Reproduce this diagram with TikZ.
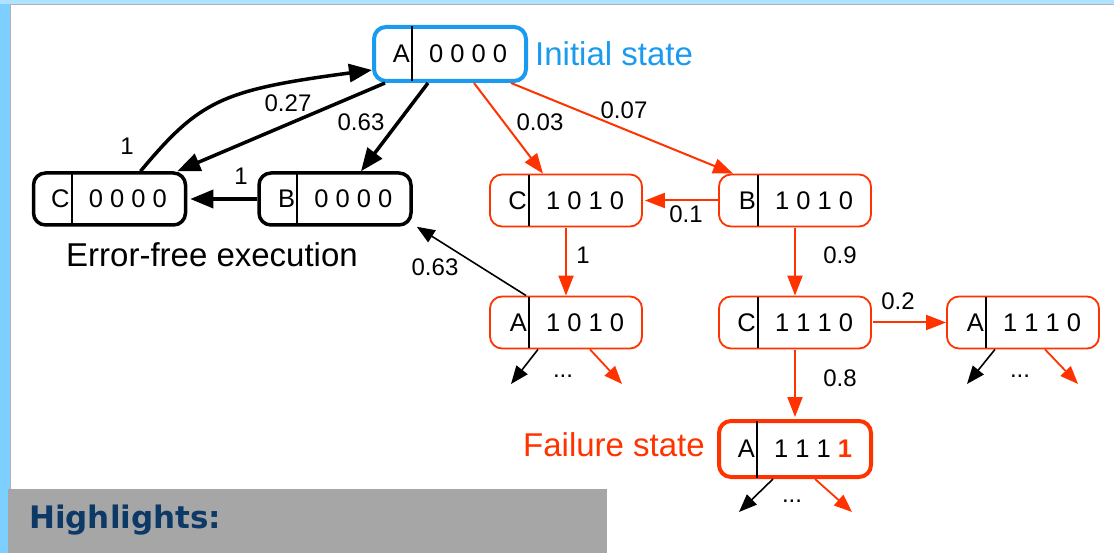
\documentclass[tikz,border=0pt]{standalone}
\usepackage{fontspec}
\setmainfont{Liberation Sans}
\newfontfamily\hlfont{DejaVu Sans}
\usetikzlibrary{arrows.meta}

\definecolor{skyblue}{HTML}{1A9BF0}
\definecolor{failred}{HTML}{FF3300}
\definecolor{bandblue}{HTML}{7DCFFF}
\definecolor{panelgray}{HTML}{A6A6A6}
\definecolor{hlblue}{HTML}{0C3966}

% state cell: divider, unit letter and bit vector
\newcommand\statecells[3]{%
  \draw[line width=1.8pt, shorten <=1.5pt, shorten >=1.5pt]
    ([xshift=40pt]#1.north west) -- ([xshift=40pt]#1.south west);
  \node[boxtext, anchor=east] (#1-l) at ([xshift=38pt]#1.west) {#2};
  \node[boxtext] (#1-v) at ([xshift=96pt]#1.west) {#3};
}

\begin{document}
\begin{tikzpicture}[x=1pt, y=-1pt,
  statebox/.style={draw, rounded corners=12pt, minimum width=152pt,
    minimum height=52pt, inner sep=0pt, fill=white},
  okbox/.style={statebox, line width=3.5pt, draw=black},
  initbox/.style={statebox, line width=4pt, draw=skyblue, minimum height=54pt},
  errbox/.style={statebox, line width=1.8pt, draw=failred},
  failbox/.style={statebox, line width=4pt, draw=failred, minimum height=56pt},
  boxtext/.style={inner sep=0pt, font=\fontsize{25.5}{28}\selectfont},
  prob/.style={inner sep=0pt, font=\fontsize{24}{27}\selectfont},
  caption/.style={inner sep=0pt, font=\fontsize{33}{38}\selectfont},
  dots/.style={inner sep=0pt, font=\fontsize{24}{26}\selectfont},
  okedge/.style={line width=3.5pt, -{Triangle[length=23pt,width=18pt]}},
  thinedge/.style={line width=1.6pt, -{Triangle[length=18pt,width=14pt]}},
  erredge/.style={line width=2pt, draw=failred, -{Triangle[length=20pt,width=15pt]}, color=failred},
  stubok/.style={line width=1.6pt, -{Triangle[length=18pt,width=14pt]}},
  stuberr/.style={line width=1.8pt, color=failred, -{Triangle[length=18pt,width=14pt]}}
]
% frame of the slide
\useasboundingbox (0,0) rectangle (1114,553);
\fill[white] (0,0) rectangle (1114,553);
\fill[bandblue] (0,0) rectangle (10,553);
\fill[bandblue!60!white] (0,0) rectangle (1114,4);
\draw[gray!60, line width=1pt] (10,5) -- (1114,5);
\draw[gray!60, line width=1pt] (10.5,5) -- (10.5,489);
\fill[panelgray] (8,489) rectangle (607,553);
\node[anchor=west, inner sep=0pt, text=hlblue,
  font=\hlfont\bfseries\fontsize{31}{34}\selectfont] (hl) at (29,520) {Highlights:};

% states
\node[initbox] (a0) at (450,54) {};
\node[okbox] (c0) at (109.5,199) {};
\node[okbox] (b0) at (335,199) {};
\node[errbox] (c1) at (566,200.5) {};
\node[errbox] (b1) at (795,200.5) {};
\node[errbox] (a1) at (566,322.5) {};
\node[errbox] (c2) at (795,322.5) {};
\node[errbox] (a2) at (1023,322.5) {};
\node[failbox] (f) at (795,449) {};

\statecells{a0}{A}{0 0 0 0}
\statecells{c0}{C}{0 0 0 0}
\statecells{b0}{B}{0 0 0 0}
\statecells{c1}{C}{1 0 1 0}
\statecells{b1}{B}{1 0 1 0}
\statecells{a1}{A}{1 0 1 0}
\statecells{c2}{C}{1 1 1 0}
\statecells{a2}{A}{1 1 1 0}
\statecells{f}{A}{1 1 1 \textcolor{failred}{\bfseries 1}}

% captions
\node[caption, anchor=west, text=skyblue] (init) at (535,54) {Initial state};
\node[caption] (ok) at (212,255) {Error-free execution};
\node[caption, anchor=east, text=failred] (fail) at (705,445) {Failure state};

% error-free transitions
\draw[okedge] ([xshift=31pt]c0.north) .. controls (200,100) and (222,90) .. ([yshift=-16pt]a0.west);
\draw[okedge] ([xshift=13pt]a0.south west) -- ([xshift=-10pt]c0.north east);
\draw[okedge] ([xshift=-22pt]a0.south) -- ([xshift=26pt]b0.north);
\draw[okedge, shorten >=3pt] (b0.west) -- (c0.east);
\draw[thinedge] ([xshift=37pt]a1.north west) -- ([xshift=4pt]b0.south east);

% error propagation
\draw[erredge] ([xshift=24pt]a0.south) -- ([xshift=-23pt]c1.north);
\draw[erredge] ([xshift=-17pt]a0.south east) -- ([xshift=15pt]b1.north west);
\draw[erredge, shorten >=2pt] (b1.west) -- (c1.east);
\draw[erredge, shorten <=1pt] (c1.south) -- (a1.north);
\draw[erredge, shorten <=1pt] (b1.south) -- (c2.north);
\draw[erredge, shorten <=1pt] (c2.east) -- (a2.west);
\draw[erredge, shorten <=1pt, shorten >=2pt] (c2.south) -- (f.north);

% probabilities
\node[prob] (p1) at (127,146) {1};
\node[prob] (p2) at (288,103) {0.27};
\node[prob] (p3) at (361,122) {0.63};
\node[prob] (p4) at (241,176) {1};
\node[prob] (p5) at (540,122) {0.03};
\node[prob] (p6) at (624,110) {0.07};
\node[prob] (p7) at (686,214) {0.1};
\node[prob] (p8) at (583,255) {1};
\node[prob] (p9) at (840,255) {0.9};
\node[prob] (p10) at (898,301) {0.2};
\node[prob] (p11) at (840,378) {0.8};
\node[prob] (p12) at (435,267) {0.63};

% continuations
\coordinate (a1k) at (511,384);
\coordinate (a1e) at (622,384);
\coordinate (a2k) at (967,384);
\coordinate (a2e) at (1078,384);
\coordinate (fk) at (739,512);
\coordinate (fe) at (852,512);
\draw[stubok] ([xshift=-28pt]a1.south) -- (a1k);
\draw[stuberr] ([xshift=24pt]a1.south) -- (a1e);
\draw[stubok] ([xshift=-28pt]a2.south) -- (a2k);
\draw[stuberr] ([xshift=22pt]a2.south) -- (a2e);
\draw[stubok] ([xshift=-22pt]f.south) -- (fk);
\draw[stuberr] ([xshift=20pt]f.south) -- (fe);
\node[dots] (d1) at (563,376) {...};
\node[dots] (d2) at (1020,376) {...};
\node[dots] (d3) at (792,501) {...};
\end{tikzpicture}
\end{document}
